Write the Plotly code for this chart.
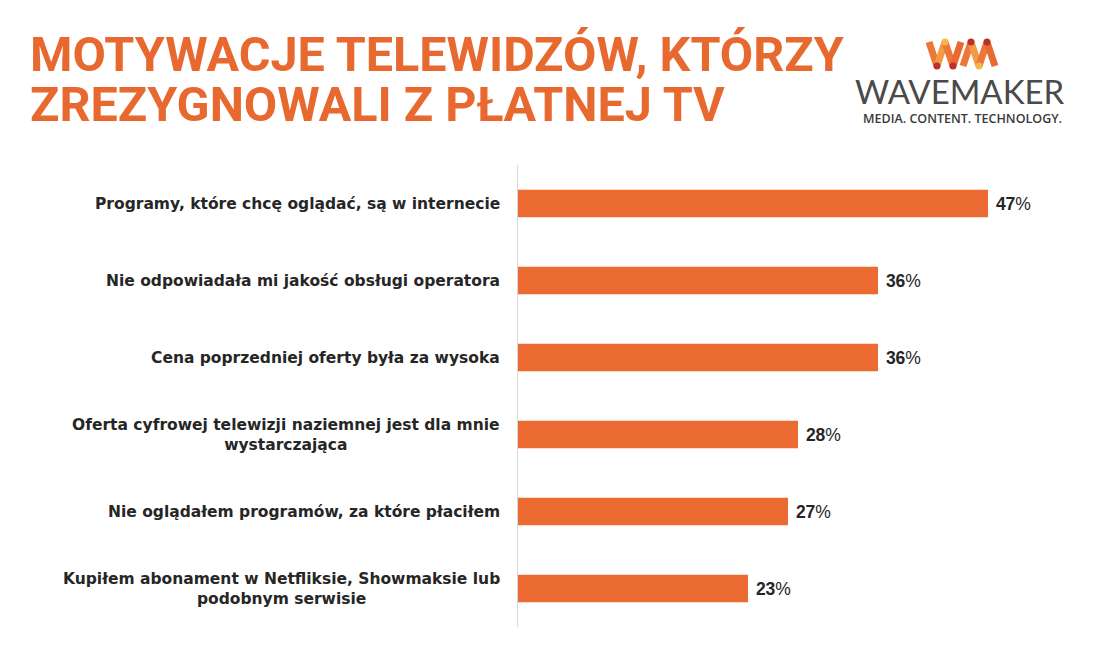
import plotly.graph_objects as go

categories = [
    "Programy, które chcę oglądać, są w internecie",
    "Nie odpowiadała mi jakość obsługi operatora",
    "Cena poprzedniej oferty była za wysoka",
    "Oferta cyfrowej telewizji naziemnej jest dla mnie<br>wystarczająca",
    "Nie oglądałem programów, za które płaciłem",
    "Kupiłem abonament w Netfliksie, Showmaksie lub<br>podobnym serwisie",
]
values = [47, 36, 36, 28, 27, 23]
title_lines = ["MOTYWACJE TELEWIDZÓW, KTÓRZY", "ZREZYGNOWALI Z PŁATNEJ TV"]

OFF = 8  # page offset of the figure inside the browser window
W, H = 1093 - OFF, 649 - OFF
L, T = 518 - OFF, 165 - OFF
R = W - (1018 - OFF)
B = H - (627 - OFF)
PW, PH = W - L - R, H - T - B

def px(x):
    return (x - OFF - L) / PW

def py(y):
    return (H - B - (y - OFF)) / PH

ORANGE = "#EC6B33"
TEXT = "#262626"

fig = go.Figure()
fig.add_trace(go.Bar(
    x=values, y=categories, orientation="h",
    marker=dict(color=ORANGE, line=dict(width=0)),
    width=0.36,
    text=[f"\u00a0<b>{v}</b>%" for v in values],
    textposition="outside",
    textfont=dict(family="Liberation Sans, Arial", size=17.5, color=TEXT),
    cliponaxis=False,
    hoverinfo="skip",
))

annotations = []
for c in categories:
    annotations.append(dict(
        x=0, y=c, xref="x", yref="y", xshift=-16,
        text=f"<b>{c}</b>", showarrow=False, xanchor="right", yanchor="middle",
        align="center",
        font=dict(family="DejaVu Sans", size=15.5, color=TEXT),
    ))

for i, line in enumerate(title_lines):
    annotations.append(dict(
        x=px(28), y=py(54 + i * 50), xref="paper", yref="paper",
        text=f"<b>{line}</b>", showarrow=False, xanchor="left", yanchor="middle",
        font=dict(family="Roboto", size=48.5, color="#E8692F", weight=900),
    ))

annotations.append(dict(
    x=px(960), y=py(91), xref="paper", yref="paper", text="WAVEMAKER",
    showarrow=False, xanchor="center", yanchor="middle",
    font=dict(family="Lato, Open Sans", size=33, color="#4a4a4a"),
))
annotations.append(dict(
    x=px(962), y=py(119), xref="paper", yref="paper", text="MEDIA. CONTENT. TECHNOLOGY.",
    showarrow=False, xanchor="center", yanchor="middle",
    font=dict(family="Open Sans, Lato", size=12.5, color="#3a3a3a", weight=600),
))

# WM logo strokes
pts_w = [(929, 42), (937, 66), (945, 42), (953, 66), (961, 42)]
pts_m = [(963, 66), (971, 42), (979, 66), (987, 42), (995, 66)]
cols = ["#EE7636", "#F29A45", "#EE7636", "#E86A32"]
shapes = []
for pts in (pts_w, pts_m):
    for k in range(4):
        (x0, y0), (x1, y1) = pts[k], pts[k + 1]
        shapes.append(dict(type="line", xref="paper", yref="paper",
                           x0=px(x0), y0=py(y0), x1=px(x1), y1=py(y1),
                           line=dict(color=cols[k], width=7)))
# darker red joints
for (x, y) in [pts_w[1], pts_w[3], pts_m[1], pts_m[3]]:
    shapes.append(dict(type="circle", xref="paper", yref="paper",
                       x0=px(x - 3.5), x1=px(x + 3.5), y0=py(y + 3.5), y1=py(y - 3.5),
                       fillcolor="#B83228", line=dict(width=0)))
for (x, y) in [pts_w[2], pts_m[2]]:
    shapes.append(dict(type="circle", xref="paper", yref="paper",
                       x0=px(x - 3.5), x1=px(x + 3.5), y0=py(y + 3.5), y1=py(y - 3.5),
                       fillcolor="#F5B64A", line=dict(width=0)))

fig.update_layout(
    width=W, height=H,
    margin=dict(l=L, r=R, t=T, b=B),
    paper_bgcolor="white", plot_bgcolor="white",
    showlegend=False,
    xaxis=dict(range=[0, 50], visible=False, fixedrange=True),
    yaxis=dict(autorange="reversed", showticklabels=False, showline=True,
               linecolor="#d9d9d9", linewidth=1, ticks="", showgrid=False,
               zeroline=False, fixedrange=True),
    annotations=annotations,
    shapes=shapes,
)

fig.write_html("out.html", config={"displayModeBar": False})
